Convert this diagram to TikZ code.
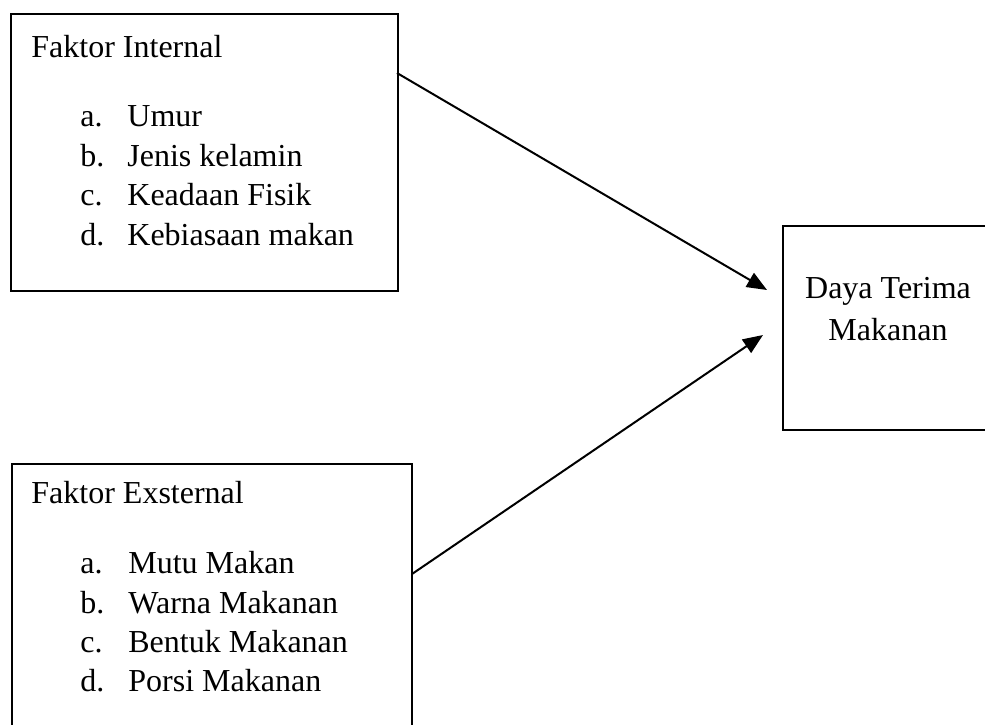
\documentclass[tikz,border=0pt]{standalone}
\usepackage{fontspec}
\setmainfont{Liberation Serif}
\usetikzlibrary{arrows.meta, positioning}
\tikzset{%
	factor box/.style={
		draw,
		line width=1pt,
		anchor=north west,
		inner sep=0pt
	},
	item text/.style={
		anchor=base west,
		inner sep=0pt
	},
	influence/.style={
		line width=1pt,
		-{Triangle[length=10pt, width=8pt]}
	},
}

\begin{document}
\begin{tikzpicture}[x=0.5pt, y=-0.5pt, font=\fontsize{16}{20}\selectfont]
			\useasboundingbox (0,0) rectangle (985,724);
			\node[factor box, minimum width=193.5pt, minimum height=138.5pt] (int) at (10,13) {};
			\node[factor box, minimum width=200pt, minimum height=140pt] (ext) at (11,463) {};
			\node[factor box, minimum width=106.5pt, minimum height=102pt] (dtm) at (782,225) {};
			
			\node[item text] (intT) at (31,57) {Faktor Internal};
			\node[item text] (intA) at (80,126) {a.};
			\node[item text] (intB) at (80,166) {b.};
			\node[item text] (intC) at (80,205) {c.};
			\node[item text] (intD) at (80,245) {d.};
			\node[item text] (umur) at (127,126) {Umur};
			\node[item text] (jenis) at (127,166) {Jenis kelamin};
			\node[item text] (fisik) at (127,205) {Keadaan Fisik};
			\node[item text] (kebiasaan) at (127,245) {Kebiasaan makan};
			
			\node[item text] (extT) at (31,503) {Faktor Exsternal};
			\node[item text] (extA) at (80,573) {a.};
			\node[item text] (extB) at (80,613) {b.};
			\node[item text] (extC) at (80,652) {c.};
			\node[item text] (extD) at (80,691) {d.};
			\node[item text] (mutu) at (128,573) {Mutu Makan};
			\node[item text] (warna) at (128,613) {Warna Makanan};
			\node[item text] (bentuk) at (128,652) {Bentuk Makanan};
			\node[item text] (porsi) at (128,691) {Porsi Makanan};
			
			\node[anchor=base, inner sep=0pt] (daya) at (888,298) {Daya Terima};
			\node[anchor=base, inner sep=0pt] (makanan) at (888,340) {Makanan};
			
			\coordinate (intOut) at (397,73);
			\coordinate (extOut) at (412,574);
			\coordinate (dtmIn1) at (767,290);
			\coordinate (dtmIn2) at (763,335);
			
			\draw[influence] (intOut) -- (dtmIn1);
			\draw[influence] (extOut) -- (dtmIn2);
			
		\end{tikzpicture}
\end{document}
